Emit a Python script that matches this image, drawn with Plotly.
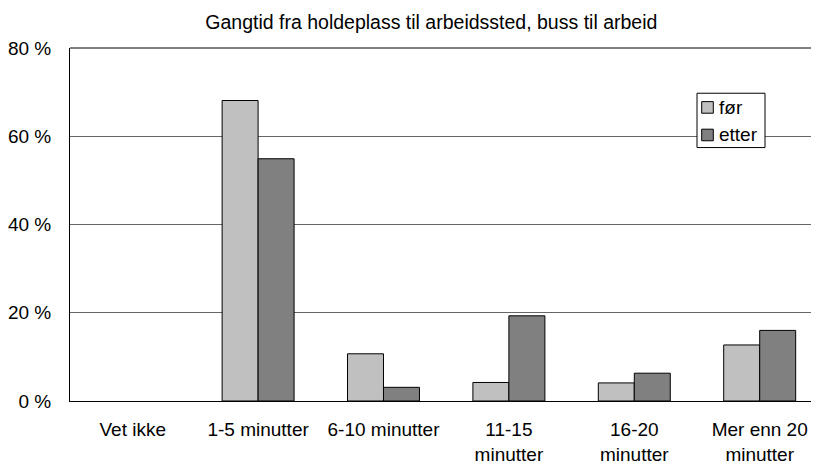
import plotly.graph_objects as go

# Kategorier og verdier (prosent)
categories = ["Vet ikke", "1-5 minutter", "6-10 minutter", "11-15<br>minutter",
              "16-20<br>minutter", "Mer enn 20<br>minutter"]
series_names = ["før", "etter"]
foer = [0, 68.1, 10.7, 4.2, 4.1, 12.7]
etter = [0, 54.9, 3.1, 19.3, 6.3, 16.0]
y_ticks = [0, 20, 40, 60, 80]
y_ticktext = ["0 %", "20 %", "40 %", "60 %", "80 %"]

FONT = "Liberation Sans, Arial, sans-serif"
COLORS = ["#c0c0c0", "#808080"]

# the page body adds an 8px margin, so the figure is sized to fit the window
W, H = 811, 456
L, T, B = 62, 40, 62.5
PW, PH = W - L, H - T - B


def px(x):
    return (x - L) / PW


def py(y):
    return (H - B - y) / PH


fig = go.Figure()
for name, vals, col in zip(series_names, [foer, etter], COLORS):
    fig.add_trace(go.Bar(
        x=categories, y=vals, name=name,
        marker=dict(color=col,
                    line=dict(color="black", width=[1 if v > 0 else 0 for v in vals]))))

fig.update_layout(
    width=W, height=H,
    margin=dict(l=L, r=0, t=T, b=B, autoexpand=False),
    paper_bgcolor="white", plot_bgcolor="white",
    font=dict(family=FONT, size=19, color="black"),
    title=dict(text="Gangtid fra holdeplass til arbeidssted, buss til arbeid",
               x=0.522, xanchor="center", y=1 - 14 / H, yanchor="middle",
               font=dict(size=19.5)),
    barmode="group", bargap=0.426, bargroupgap=0,
    showlegend=False,
)
fig.update_xaxes(range=[-0.5, 5.473], showline=True, linecolor="black", linewidth=1,
                 ticks="", ticklabelstandoff=11, tickangle=0, automargin=False)
fig.update_yaxes(range=[0, 80], tickmode="array", tickvals=y_ticks, ticktext=y_ticktext,
                 showgrid=True, gridcolor="#666666", gridwidth=1,
                 showline=True, linecolor="black", linewidth=1, ticks="",
                 ticklabelstandoff=14, zeroline=False, automargin=False)
# top border
fig.add_shape(type="line", xref="paper", yref="paper", x0=0, x1=1, y0=1, y1=1,
              line=dict(color="black", width=1))

# legend box drawn by hand to match the small original
fig.add_shape(type="rect", xref="paper", yref="paper",
              x0=px(689), x1=px(757), y0=py(85.3), y1=py(139.7),
              fillcolor="white", line=dict(color="black", width=1), layer="above")
for i, (name, col) in enumerate(zip(series_names, COLORS)):
    y0 = 93.7 + i * 27.6
    fig.add_shape(type="rect", xref="paper", yref="paper",
                  x0=px(693.7), x1=px(705.3), y0=py(y0), y1=py(y0 + 11.6),
                  fillcolor=col, line=dict(color="black", width=1), layer="above")
    fig.add_annotation(text=name, xref="paper", yref="paper",
                       x=px(709), y=py(y0 + 5.8), xanchor="left", yanchor="middle",
                       showarrow=False, font=dict(size=19))

fig.write_html("out.html")
